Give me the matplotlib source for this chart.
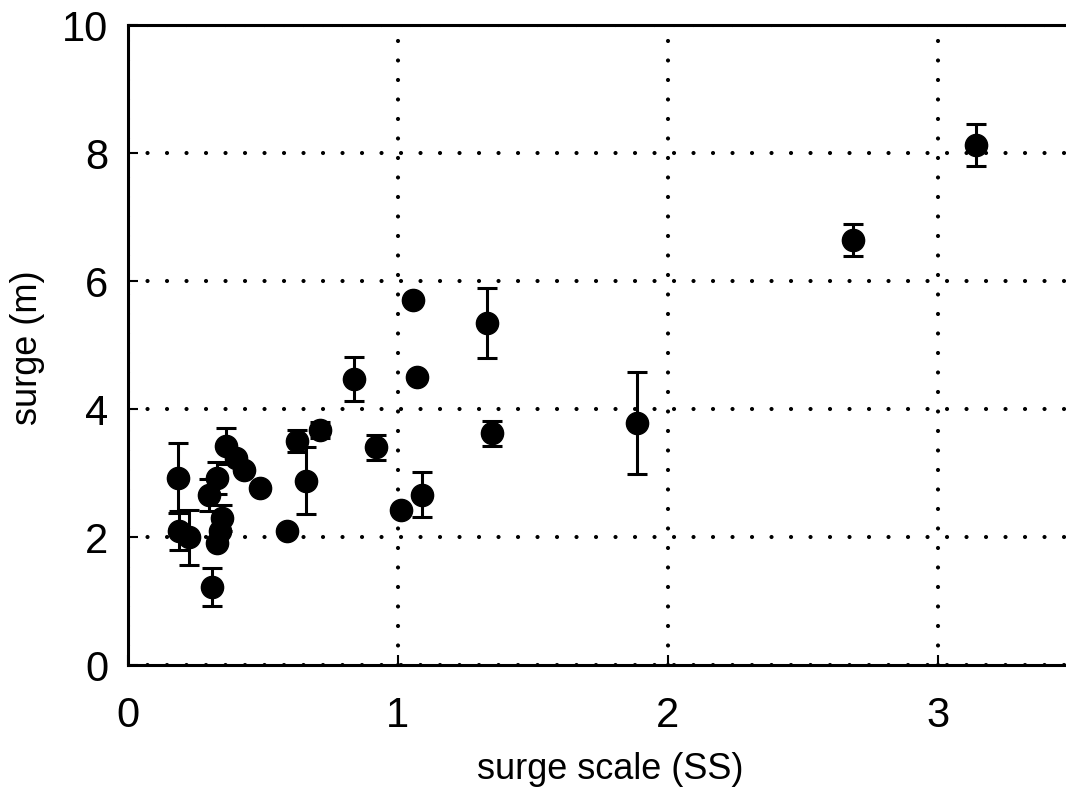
import matplotlib
matplotlib.use("Agg")
import matplotlib.pyplot as plt
import numpy as np

plt.rcParams['font.family'] = ['Liberation Sans', 'DejaVu Sans']

# surge scale (SS), observed surge (m), error half-width (m)
ss = [0.185, 0.19, 0.225, 0.30, 0.33, 0.31, 0.33, 0.34, 0.35, 0.365,
      0.40, 0.43, 0.49, 0.59, 0.625, 0.66, 0.71, 0.837, 0.92, 1.01,
      1.056, 1.07, 1.09, 1.33, 1.35, 1.885, 2.685, 3.14]
surge = [2.92, 2.10, 2.00, 2.65, 2.92, 1.22, 1.90, 2.10, 2.30, 3.42,
         3.23, 3.05, 2.77, 2.10, 3.50, 2.88, 3.67, 4.47, 3.40, 2.42,
         5.70, 4.50, 2.66, 5.34, 3.62, 3.78, 6.64, 8.12]
err = [0.55, 0.30, 0.43, 0.25, 0.25, 0.30, 0.0, 0.0, 0.20, 0.28,
       0.0, 0.0, 0.0, 0.0, 0.17, 0.52, 0.12, 0.35, 0.20, 0.0,
       0.0, 0.0, 0.35, 0.55, 0.20, 0.80, 0.25, 0.33]

x = np.array(ss)
y = np.array(surge)
e = np.array(err)
has_err = e > 0

fig = plt.figure(figsize=(10.66, 7.95), dpi=100)
ax = fig.add_axes([0.12, 0.1635, 0.8865, 0.805])

ax.errorbar(x[has_err], y[has_err], yerr=e[has_err], fmt='none',
            ecolor='black', elinewidth=2.2, capsize=7, capthick=2.2, zorder=3)
ax.plot(x, y, 'o', color='black', markersize=16, zorder=4)

ax.set_xlim(0, 3.5)
ax.set_ylim(0, 10)
ax.set_xticks([0, 1, 2, 3])
ax.set_yticks([0, 2, 4, 6, 8, 10])

# dotted gnuplot-style grid
ax.grid(True, color='black', linestyle=(0, (0.01, 4.67)), linewidth=3,
        dash_capstyle='round')
ax.set_axisbelow(True)

for s in ax.spines.values():
    s.set_linewidth(2.2)

ax.tick_params(direction='in', length=7, width=1.5, labelsize=30,
               pad=14, top=False, right=False)
ax.tick_params(axis='x', pad=22)

fig.text(0.572, 0.032, 'surge scale (SS)', fontsize=26, ha='center', va='center')
fig.text(0.026, 0.563, 'surge (m)', fontsize=26, rotation=90,
         ha='center', va='center')

fig.savefig('out.png', dpi=100)
